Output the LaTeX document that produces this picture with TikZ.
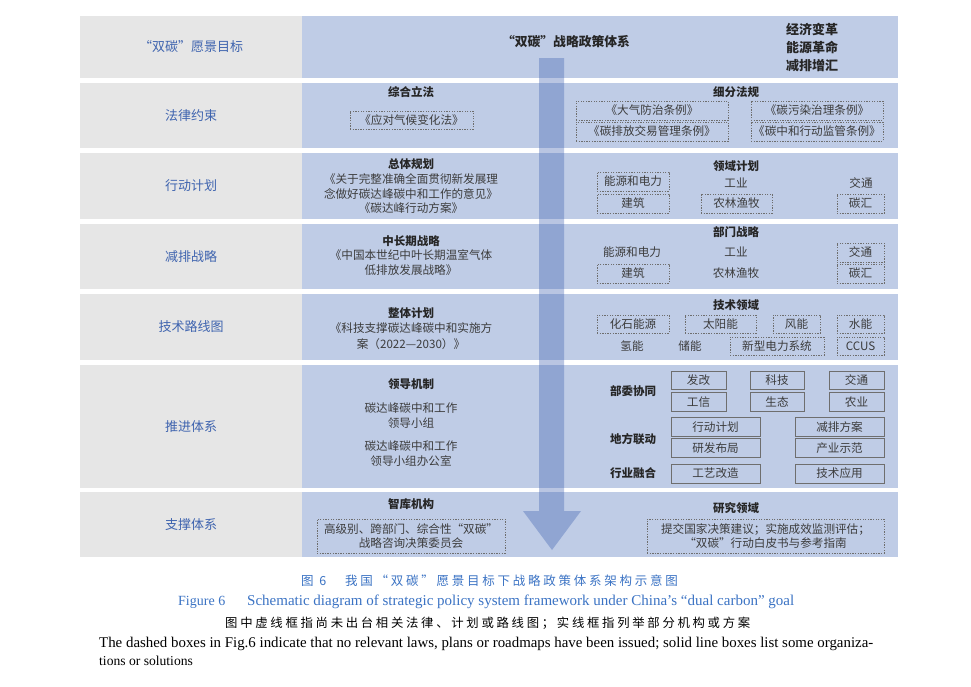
\documentclass[tikz,border=0pt]{standalone}
\usepackage{fontspec}
\newfontfamily\cjk{Noto Sans CJK SC}
\newfontfamily\cjkcap[LetterSpace=22]{Noto Sans CJK SC}
\newfontfamily\enserif{Liberation Serif}
\definecolor{panelblue}{HTML}{BFCCE6}
\definecolor{leftgray}{HTML}{E6E6E6}
\definecolor{labblue}{HTML}{3F64AF}
\definecolor{darktext}{HTML}{262626}
\definecolor{bodytext}{HTML}{3C3C3C}
\definecolor{boxline}{HTML}{6E6E6E}
\definecolor{capblue}{HTML}{3B73C4}
\definecolor{arrowc}{HTML}{3D60B0}
\begin{document}
\begin{tikzpicture}[x=1pt,y=-1pt,
  leftcell/.style={fill=leftgray, draw=none, minimum width=222pt, inner sep=0,
    font=\cjk\fontsize{13}{15}\selectfont, text=labblue},
  bluecell/.style={fill=panelblue, draw=none, minimum width=596pt, inner sep=0},
  hd/.style={font=\cjk\bfseries\fontsize{11.5}{13}\selectfont, text=darktext, inner sep=0},
  bighd/.style={font=\cjk\bfseries\fontsize{13}{15}\selectfont, text=darktext, inner sep=0},
  tx/.style={font=\cjk\fontsize{11.6}{13}\selectfont, text=bodytext, inner sep=0},
  dbox/.style={tx, draw=boxline, dash pattern=on 1.3pt off 1.3pt, line width=0.6pt, minimum height=19pt},
  sbox/.style={tx, draw=boxline, line width=0.7pt, minimum height=19pt},
]
\useasboundingbox (0,0) rectangle (971,686);
\fill[white] (0,0) rectangle (971,686);

% ---------- rows ----------
\node[leftcell, minimum height=62pt] (L1) at (191,47) {“双碳”愿景目标};
\node[bluecell, minimum height=62pt] (B1) at (600,47) {};
\node[leftcell, minimum height=65pt] (L2) at (191,115.5) {法律约束};
\node[bluecell, minimum height=65pt] (B2) at (600,115.5) {};
\node[leftcell, minimum height=66pt] (L3) at (191,186) {行动计划};
\node[bluecell, minimum height=66pt] (B3) at (600,186) {};
\node[leftcell, minimum height=65pt] (L4) at (191,256.5) {减排战略};
\node[bluecell, minimum height=65pt] (B4) at (600,256.5) {};
\node[leftcell, minimum height=66pt] (L5) at (191,327) {技术路线图};
\node[bluecell, minimum height=66pt] (B5) at (600,327) {};
\node[leftcell, minimum height=123pt] (L6) at (191,426.5) {推进体系};
\node[bluecell, minimum height=123pt] (B6) at (600,426.5) {};
\node[leftcell, minimum height=65pt] (L7) at (191,524.5) {支撑体系};
\node[bluecell, minimum height=65pt] (B7) at (600,524.5) {};

% ---------- big arrow ----------
\fill[arrowc, opacity=0.36] (539,58) -- (564,58) -- (564,511) -- (581,511)
  -- (552,550) -- (523,511) -- (539,511) -- cycle;

% ---------- row 1 ----------
\node[bighd, font=\cjk\bfseries\fontsize{12.8}{15}\selectfont] (T1) at (566,42) {“双碳”战略政策体系};
\node[bighd] (E1) at (812,29) {经济变革};
\node[bighd] (E2) at (812,47) {能源革命};
\node[bighd] (E3) at (812,66) {减排增汇};

% ---------- row 2 ----------
\node[hd] (H2a) at (411,92) {综合立法};
\node[dbox, minimum width=123pt, minimum height=18pt] (F1) at (411.5,120) {《应对气候变化法》};
\node[hd] (H2b) at (736,92) {细分法规};
\node[dbox, minimum width=152pt] (F2) at (652,110.5) {《大气防治条例》};
\node[dbox, minimum width=132pt] (F3) at (817,110.5) {《碳污染治理条例》};
\node[dbox, minimum width=152pt] (F4) at (652,131.5) {《碳排放交易管理条例》};
\node[dbox, minimum width=132pt] (F5) at (817,131.5) {《碳中和行动监管条例》};

% ---------- row 3 ----------
\node[hd] (H3a) at (411,164) {总体规划};
\node[tx] (P1) at (411,179.5) {《关于完整准确全面贯彻新发展理};
\node[tx] (P2) at (411,194) {念做好碳达峰碳中和工作的意见》};
\node[tx] (P3) at (411,208.5) {《碳达峰行动方案》};
\node[hd] (H3b) at (736,166) {领域计划};
\node[dbox, minimum width=72pt] (A1) at (633,181.5) {能源和电力};
\node[tx] (A2) at (736,183) {工业};
\node[tx] (A3) at (861,183) {交通};
\node[dbox, minimum width=72pt] (A4) at (633,203.5) {建筑};
\node[dbox, minimum width=71pt] (A5) at (736.5,203.5) {农林渔牧};
\node[dbox, minimum width=47pt] (A6) at (860.5,203.5) {碳汇};

% ---------- row 4 ----------
\node[hd] (H4a) at (411,241) {中长期战略};
\node[tx] (S1) at (411,255.5) {《中国本世纪中叶长期温室气体};
\node[tx] (S2) at (411,270.5) {低排放发展战略》};
\node[hd] (H4b) at (736,232) {部门战略};
\node[tx] (D1) at (632,252) {能源和电力};
\node[tx] (D2) at (736,252) {工业};
\node[dbox, minimum width=47pt] (D3) at (860.5,252.5) {交通};
\node[dbox, minimum width=72pt] (D4) at (633,273.5) {建筑};
\node[tx] (D5) at (736,273.5) {农林渔牧};
\node[dbox, minimum width=47pt] (D6) at (860.5,273.5) {碳汇};

% ---------- row 5 ----------
\node[hd] (H5a) at (411,313) {整体计划};
\node[tx] (K1) at (411,328) {《科技支撑碳达峰碳中和实施方};
\node[tx] (K2) at (411,344) {案（2022—2030）》};
\node[hd] (H5b) at (736,305) {技术领域};
\node[dbox, minimum width=72pt, minimum height=18pt] (J1) at (633,324) {化石能源};
\node[dbox, minimum width=71pt, minimum height=18pt] (J2) at (720.5,324) {太阳能};
\node[dbox, minimum width=47pt, minimum height=18pt] (J3) at (796.5,324) {风能};
\node[dbox, minimum width=47pt, minimum height=18pt] (J4) at (860.5,324) {水能};
\node[tx] (J5) at (632,346) {氢能};
\node[tx] (J6) at (690,346) {储能};
\node[dbox, minimum width=94pt, minimum height=18pt] (J7) at (777,346) {新型电力系统};
\node[dbox, minimum width=47pt, minimum height=18pt] (J8) at (860.5,346) {CCUS};

% ---------- row 6 ----------
\node[hd] (H6a) at (411,384) {领导机制};
\node[tx] (G1) at (411,408) {碳达峰碳中和工作};
\node[tx] (G2) at (411,423) {领导小组};
\node[tx] (G3) at (411,446) {碳达峰碳中和工作};
\node[tx] (G4) at (411,461) {领导小组办公室};
\node[hd] (M1) at (633,391) {部委协同};
\node[hd] (M2) at (633,439) {地方联动};
\node[hd] (M3) at (633,473.5) {行业融合};
\node[sbox, minimum width=55pt, minimum height=18pt] (N1) at (698.5,380) {发改};
\node[sbox, minimum width=54pt, minimum height=18pt] (N2) at (777,380) {科技};
\node[sbox, minimum width=55pt, minimum height=18pt] (N3) at (856.5,380) {交通};
\node[sbox, minimum width=55pt, minimum height=19pt] (N4) at (698.5,402) {工信};
\node[sbox, minimum width=54pt, minimum height=19pt] (N5) at (777,402) {生态};
\node[sbox, minimum width=55pt, minimum height=19pt] (N6) at (856.5,402) {农业};
\node[sbox, minimum width=89pt] (N7) at (715.5,427) {行动计划};
\node[sbox, minimum width=89pt] (N8) at (839.5,427) {减排方案};
\node[sbox, minimum width=89pt] (N9) at (715.5,448) {研发布局};
\node[sbox, minimum width=89pt] (N10) at (839.5,448) {产业示范};
\node[sbox, minimum width=89pt] (N11) at (715.5,473.5) {工艺改造};
\node[sbox, minimum width=89pt] (N12) at (839.5,473.5) {技术应用};

% ---------- row 7 ----------
\node[hd] (H7a) at (411,504) {智库机构};
\node[dbox, minimum width=188pt, minimum height=34pt, align=center,
  font=\cjk\fontsize{11.6}{14.5}\selectfont] (Z1) at (411,536)
  {高级别、跨部门、综合性“双碳”\\战略咨询决策委员会};
\node[hd] (H7b) at (736,508) {研究领域};
\node[dbox, minimum width=237pt, minimum height=34pt, align=center,
  font=\cjk\fontsize{11.6}{14.5}\selectfont] (Z2) at (765.5,536)
  {提交国家决策建议；实施成效监测评估；\\“双碳”行动白皮书与参考指南};

% ---------- captions ----------
\node[anchor=west, inner sep=0, text=capblue, font=\cjkcap\fontsize{12.5}{14}\selectfont] (C1a) at (301,581) {图 6};
\node[anchor=west, inner sep=0, text=capblue, font=\cjkcap\fontsize{12.5}{14}\selectfont] (C1b) at (345,581) {我国“双碳”愿景目标下战略政策体系架构示意图};
\node[anchor=west, inner sep=0, text=capblue, font=\enserif\fontsize{14}{16}\selectfont] (C2a) at (178,602) {Figure 6};
\node[anchor=west, inner sep=0, text=capblue] (C2b) at (247,602)
  {\resizebox{547pt}{!}{\enserif Schematic diagram of strategic policy system framework under China’s “dual carbon” goal}};
\node[anchor=west, inner sep=0, text=black] (C3) at (225,623)
  {\resizebox{525pt}{!}{\cjkcap 图中虚线框指尚未出台相关法律、计划或路线图；实线框指列举部分机构或方案}};
\node[anchor=west, inner sep=0, text=black] (C4) at (99,644)
  {\resizebox{774pt}{!}{\enserif The dashed boxes in Fig.6 indicate that no relevant laws, plans or roadmaps have been issued; solid line boxes list some organiza-}};
\node[anchor=west, inner sep=0, text=black, font=\enserif\fontsize{13.6}{16}\selectfont] (C5) at (99,661) {tions or solutions};
\end{tikzpicture}
\end{document}
